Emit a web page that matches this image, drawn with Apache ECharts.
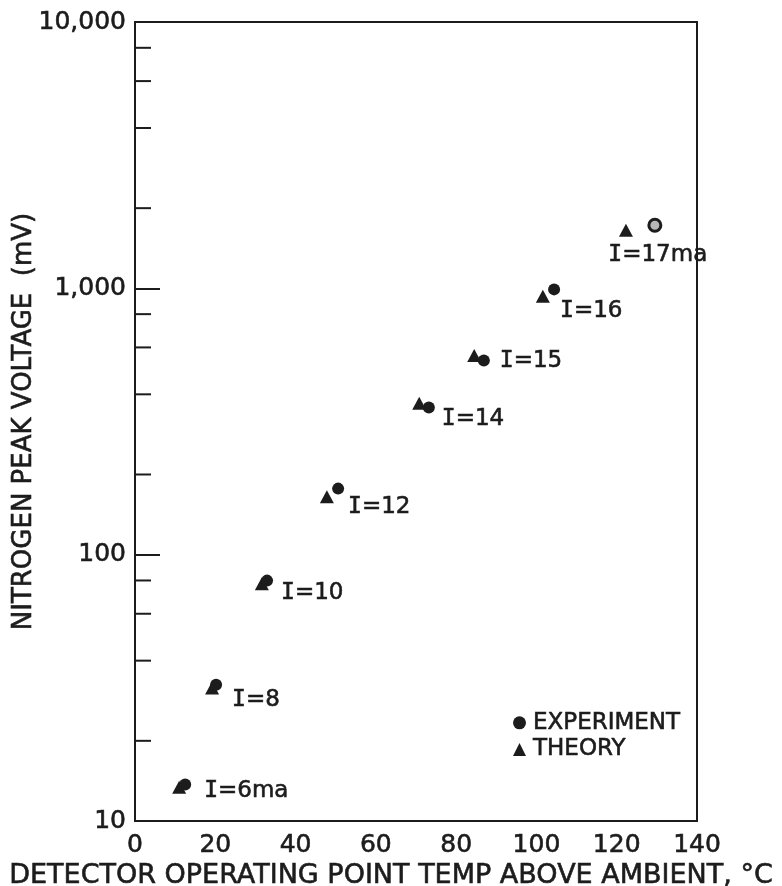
<!DOCTYPE html>
<html>
<head>
<meta charset="utf-8">
<script src="https://cdn.jsdelivr.net/npm/echarts@6/dist/echarts.min.js"></script>
<style>
  html, body { margin: 0; padding: 0; background: #ffffff; }
  #chart { width: 782px; height: 886px; }
</style>
</head>
<body>
<div id="chart"></div>
<script>
// Detector operating point temperature above ambient (°C) and nitrogen peak voltage (mV)
const experimentTemp = [12.5, 20.2, 32.9, 50.6, 73.2, 86.9, 104.4, 129.5];
const experimentVolt = [13.7, 32.5, 79.9, 177, 357, 536, 991, 1725];
const theoryTemp = [11.0, 19.2, 31.6, 47.8, 70.8, 84.5, 101.6, 122.3];
const theoryVolt = [13.4, 31.6, 77.8, 165, 370, 560, 933, 1652];
const currentLabels = ['I=6ma', 'I=8', 'I=10', 'I=12', 'I=14', 'I=15', 'I=16', 'I=17ma'];
const minorTickValues = [20, 40, 60, 80, 200, 400, 600, 800, 2000, 4000, 6000, 8000];

const INK = '#1c1c1c';
const FONT = '"DejaVu Sans", sans-serif';

// lettering a little heavier than the regular face
function ink(size) {
  return { fontFamily: FONT, fontSize: size, color: INK, textBorderColor: INK, textBorderWidth: 0.6 };
}

// where each current label sits relative to its experiment marker
const labelNudge = [[25, 12], [22, 21], [20, 18], [16, 24], [19, 18], [22, 7], [12, 28], [-39, 37]];

const experimentData = experimentTemp.map((t, i) => {
  const item = {
    value: [t, experimentVolt[i]],
    label: {
      show: true,
      position: labelNudge[i],
      align: 'left',
      verticalAlign: 'middle',
      formatter: '{i|I}{t|' + currentLabels[i].slice(1) + '}',
      rich: {
        i: Object.assign(ink(23), { fontFamily: '"DejaVu Sans Mono", monospace' }),
        t: ink(23)
      }
    }
  };
  if (i === experimentTemp.length - 1) {
    item.itemStyle = { color: '#b8b8b8', borderColor: INK, borderWidth: 3 };
  }
  return item;
});
const theoryData = theoryTemp.map((t, i) => [t, theoryVolt[i]]);

const chart = echarts.init(document.getElementById('chart'), null, { renderer: 'canvas' });
chart.setOption({
  backgroundColor: '#ffffff',
  animation: false,
  textStyle: { fontFamily: FONT, color: INK },
  grid: {
    left: 135, right: 85, top: 22, bottom: 65,
    containLabel: false, outerBoundsMode: 'none',
    show: true, borderColor: INK, borderWidth: 2, backgroundColor: 'transparent'
  },
  legend: {
    orient: 'vertical',
    left: 508, top: 706,
    itemWidth: 13, itemHeight: 13, itemGap: 3,
    data: [{ name: 'EXPERIMENT', icon: 'circle' }, { name: 'THEORY', icon: 'triangle' }],
    textStyle: Object.assign(ink(23), { padding: [0, 0, 0, 2] }),
    selectedMode: false
  },
  xAxis: {
    type: 'value', min: 0, max: 140, interval: 20,
    axisLine: { show: false }, axisTick: { show: false }, splitLine: { show: false },
    axisLabel: Object.assign(ink(25), { margin: 12 }),
    name: 'DETECTOR OPERATING POINT TEMP ABOVE AMBIENT, °C',
    nameLocation: 'middle', nameGap: 41, nameMoveOverlap: false,
    nameTextStyle: Object.assign(ink(27), { padding: [0, 50, 0, 0] })
  },
  yAxis: {
    type: 'log', logBase: 10, min: 10, max: 10000,
    axisLine: { show: false },
    axisTick: { show: true, inside: true, length: 25, lineStyle: { color: INK, width: 2 } },
    splitLine: { show: false },
    axisLabel: Object.assign(ink(25), {
      margin: 9,
      formatter: v => Math.round(v).toLocaleString('en-US')
    }),
    name: 'NITROGEN PEAK VOLTAGE  (mV)',
    nameLocation: 'middle', nameGap: 98, nameMoveOverlap: false,
    nameTextStyle: ink(26)
  },
  series: [
    {
      // short minor ticks at 2, 4, 6, 8 of every decade
      type: 'custom',
      silent: true,
      clip: false,
      data: minorTickValues.map(v => [0, v]),
      encode: { x: 0, y: 1 },
      renderItem: (params, api) => {
        const p = api.coord([api.value(0), api.value(1)]);
        return {
          type: 'line',
          shape: { x1: p[0], y1: p[1], x2: p[0] + 16, y2: p[1] },
          style: { stroke: INK, lineWidth: 2 }
        };
      },
      z: 5
    },
    {
      name: 'THEORY',
      type: 'scatter',
      symbol: 'triangle',
      symbolSize: [14, 13],
      itemStyle: { color: INK, opacity: 1 },
      data: theoryData,
      z: 3
    },
    {
      name: 'EXPERIMENT',
      type: 'scatter',
      symbol: 'circle',
      symbolSize: 12,
      itemStyle: { color: INK, opacity: 1 },
      data: experimentData,
      z: 4
    }
  ]
});
</script>
</body>
</html>
